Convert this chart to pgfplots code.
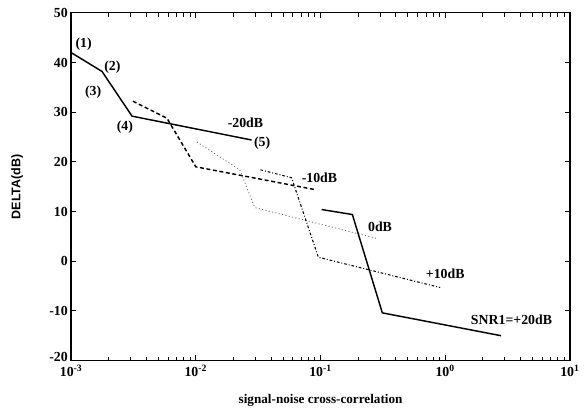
\documentclass[border=0pt]{standalone}
\usepackage{fontspec}
\setmainfont{Liberation Serif}
\newfontfamily\labsans{Liberation Sans}
\usepackage{pgfplots}
\pgfplotsset{compat=1.18}
\begin{document}
\begin{tikzpicture}
\begin{axis}[
  at={(0,0)}, anchor=south west,
  scale only axis, width=378.75pt, height=264pt,
  xmode=log, xmin=1e-3, xmax=10, ymin=-20, ymax=50,
  xtick={1e-3,1e-2,1e-1,1,10},
  xticklabels={10\textsuperscript{-3},10\textsuperscript{-2},10\textsuperscript{-1},10\textsuperscript{0},10\textsuperscript{1}},
  ytick={-20,-10,0,10,20,30,40,50},
  yticklabels={\raisebox{5pt}{-20},-10,0,10,20,30,40,50},
  tick label style={font=\fontsize{10.5}{12}\selectfont\bfseries},
  yticklabel style={xshift=1pt},
  xticklabel style={yshift=0pt},
  axis line style={line width=1pt},
  tick style={black, line width=0.6pt},
  major tick length=4pt, minor tick length=3pt,
  clip=false,
]
% SNR1 = -20 dB (solid)
\addplot[black, line width=1.1pt] coordinates {(0.001,42) (0.00177,38.2) (0.00308,29.2) (0.028,24.4)};
% -10 dB (dashed)
\addplot[black, line width=1.1pt, dash pattern=on 3pt off 2pt] coordinates {(0.00313,32.2) (0.00586,28.8) (0.01,19) (0.091,14.4)};
% 0 dB (dotted)
\addplot[black!60, line width=0.6pt, dash pattern=on 0.8pt off 1.8pt] coordinates {(0.0102,24) (0.0225,18.4) (0.0297,10.8) (0.29,4.5)};
% +10 dB (dash-dot)
\addplot[black, line width=0.8pt, dash pattern=on 2pt off 1.5pt on 0.7pt off 1.5pt] coordinates {(0.033,18.4) (0.0586,16.8) (0.096,0.8) (0.91,-5.3)};
% +20 dB (solid)
\addplot[black, line width=1.1pt] coordinates {(0.102,10.4) (0.18,9.4) (0.313,-10.4) (2.8,-15)};
\begin{scope}[every node/.style={font=\fontsize{10.5}{12}\selectfont\bfseries}]
\node at (axis cs:0.00126,43.6) {(1)};
\node at (axis cs:0.00214,39) {(2)};
\node at (axis cs:0.0015,34) {(3)};
\node at (axis cs:0.0027,27) {(4)};
\node at (axis cs:0.034,23.8) {(5)};
\node at (axis cs:0.025,27.8) {-20dB};
\node at (axis cs:0.098,16.8) {-10dB};
\node at (axis cs:0.30,6.9) {0dB};
\node at (axis cs:1.0,-2.5) {+10dB};
\node at (axis cs:3.4,-11.8) {SNR1=+20dB};
\end{scope}
\end{axis}
\node[font=\fontsize{10}{12}\selectfont\bfseries] at (189.4pt,-30pt) {signal-noise cross-correlation};
\node[font=\labsans\fontsize{9.5}{11}\selectfont\bfseries, rotate=90] at (-41pt,132pt) {DELTA(dB)};
\useasboundingbox (-54pt,-39pt) rectangle (384pt,273.75pt);
\end{tikzpicture}
\end{document}
